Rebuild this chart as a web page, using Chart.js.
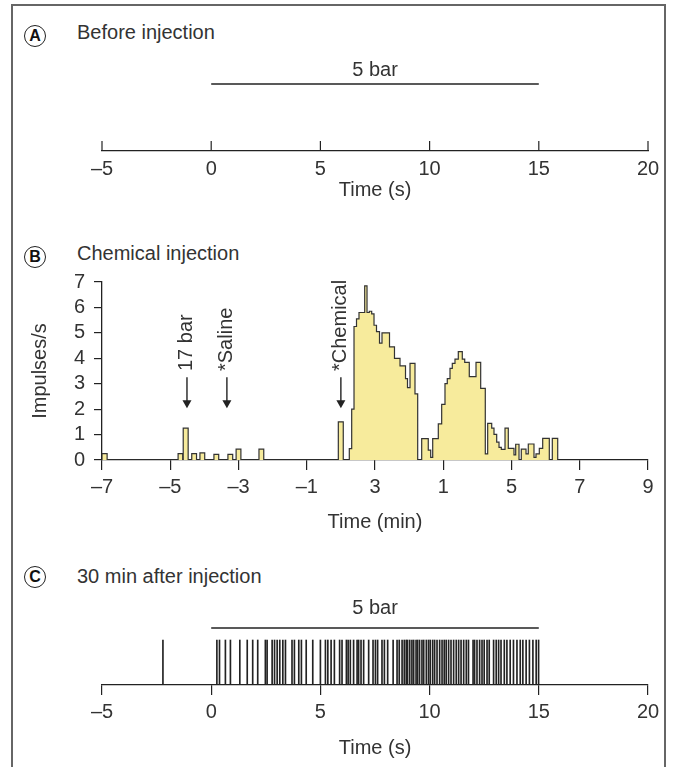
<!DOCTYPE html>
<html><head><meta charset="utf-8">
<script src="https://cdn.jsdelivr.net/npm/chart.js@4/dist/chart.umd.min.js"></script>
<style>
html,body{margin:0;padding:0;background:#fff;}
body{width:673px;height:767px;position:relative;overflow:hidden;font-family:"Liberation Sans",Arial,sans-serif;color:#333;}
.frame{position:absolute;left:11px;top:4px;width:655px;height:800px;border:2px solid #666;border-bottom:none;box-sizing:border-box;}
.letter{position:absolute;width:22px;height:22px;border:1.7px solid #222;border-radius:50%;box-sizing:border-box;font-weight:bold;font-size:16px;line-height:19px;text-align:center;color:#111;}
.ptitle{position:absolute;font-size:20px;line-height:24px;color:#333;white-space:nowrap;}
canvas{position:absolute;left:0;}
</style></head>
<body>
<div class="frame"></div>
<div class="letter" style="left:24px;top:25px">A</div>
<div class="ptitle" style="left:77px;top:20px">Before injection</div>
<div class="letter" style="left:24px;top:246px">B</div>
<div class="ptitle" style="left:77px;top:241px">Chemical injection</div>
<div class="letter" style="left:24px;top:566px">C</div>
<div class="ptitle" style="left:77px;top:564px">30 min after injection</div>
<canvas id="cA" width="673" height="210" style="top:0px"></canvas>
<canvas id="cB" width="673" height="300" style="top:240px"></canvas>
<canvas id="cC" width="673" height="207" style="top:560px"></canvas>
<script>
// ---------- DATA ----------
// Stimulus (5 bar) period, seconds
const stimOn = 0;
const stimOff = 15;
const stimLabel = '5 bar';

// Panel A / C tick labels (s)
const ticksSec = ['–5', '0', '5', '10', '15', '20'];
// Panel B tick labels (min), as printed
const ticksMin = ['–7', '–5', '–3', '–1', '3', '1', '5', '7', '9'];
const ticksRate = ['0', '1', '2', '3', '4', '5', '6', '7'];

// Panel B histogram: each run starts at histStart[i] (min) with rate histRate[i] (impulses/s)
const histStart = [
  -7.00, -6.85,
  -4.77, -4.635, -4.62, -4.475,
  -4.37, -4.23,
  -4.13, -3.99,
  -3.72, -3.58,
  -3.31, -3.17,
  -3.07, -2.93,
  -2.40, -2.26,
  -0.075, 0.07,
  0.247, 0.317, 0.385, 0.458, 0.531, 0.698, 0.766, 0.833, 0.903, 0.971, 1.044, 1.132, 1.205, 1.425, 1.571, 1.733, 1.894, 1.952, 2.026, 2.172, 2.251,
  2.368, 2.561, 2.632, 2.691, 2.855, 2.954, 3.051, 3.118, 3.198, 3.265, 3.344, 3.441, 3.558, 3.629, 3.763, 3.960, 4.097, 4.232, 4.302, 4.420, 4.487, 4.566, 4.634, 4.701, 4.810, 4.906, 5.073, 5.123, 5.220, 5.287, 5.425, 5.492, 5.659, 5.718, 5.815, 5.914, 6.108, 6.196, 6.354
];
const histRate = [
  0.25, 0,
  0.25, 0, 1.25, 0,
  0.25, 0,
  0.28, 0,
  0.22, 0,
  0.22, 0,
  0.43, 0,
  0.43, 0,
  1.5, 0,
  0.45, 2.0, 5.25, 5.55, 5.8, 6.85, 5.8, 5.85, 5.75, 5.3, 5.05, 4.6, 5.0, 4.45, 4.0, 3.7, 3.2, 2.85, 3.8, 2.6, 0,
  0.84, 0.39, 0.1, 0.84, 1.42, 2.19, 3.0, 3.2, 3.6, 3.8, 3.97, 4.26, 3.97, 3.84, 3.28, 3.84, 2.82, 0.24, 1.44, 1.25, 1.01, 0.7, 0.5, 0.42, 1.25, 0.46, 0.2, 0.62, 0, 0.43, 0.24, 0.63, 0.1, 0.24, 0.46, 0.85, 0, 0.85, 0
];

// Panel B event markers
const eventTimes = [-4.51, -3.34, 0.0];
const eventLabels = ['17 bar', '*Saline', '*Chemical'];

// Panel C spike times (s)
const spikeTimes = [
  -2.21, 0.26, 0.38, 0.65, 0.88, 1.31, 1.65, 1.90, 2.13, 2.48, 2.56, 2.79, 2.90, 3.02, 3.14, 3.28, 3.40, 3.70, 3.81, 4.01, 4.13, 4.35, 4.65, 5.00,
  5.23, 5.34, 5.49, 5.64, 5.88, 5.99, 6.19, 6.27, 6.37, 6.52, 6.68, 6.75, 6.86, 6.98, 7.21, 7.41, 7.52, 7.62,
  7.82, 7.93, 8.08, 8.33, 8.51, 8.61, 8.74, 8.84, 8.93, 8.99, 9.09, 9.19, 9.27, 9.38, 9.45, 9.54, 9.65, 9.73, 9.85, 9.95,
  10.03, 10.14, 10.23, 10.34, 10.46, 10.57, 10.67, 10.76, 10.87, 10.98, 11.10, 11.22, 11.33, 11.44, 11.56, 11.68, 11.78,
  11.99, 12.06, 12.17, 12.29, 12.40, 12.50, 12.63, 12.73, 12.93, 13.05, 13.16, 13.27, 13.42, 13.54, 13.69, 13.84, 14.00,
  14.15, 14.27, 14.42, 14.57, 14.73, 14.88, 14.99
];

// ---------- STYLE ----------
const FONT = '"Liberation Sans", Arial, sans-serif';
const INK = '#222';
const TXT = '#333';
const FILL = 'rgb(247,235,156)';
const FS = 20;
Chart.defaults.font.family = FONT;
Chart.defaults.font.size = FS;
Chart.defaults.color = TXT;

// ---------- PLUGINS ----------
const upTicks = {
  id: 'upTicks',
  afterDraw(chart, args, opts) {
    if (!opts || !opts.len) return;
    const s = chart.scales.x, ctx = chart.ctx, b = chart.chartArea.bottom;
    ctx.save(); ctx.strokeStyle = INK; ctx.lineWidth = 1.2;
    s.ticks.forEach(t => {
      const x = s.getPixelForValue(t.value);
      ctx.beginPath(); ctx.moveTo(x, b); ctx.lineTo(x, b - opts.len); ctx.stroke();
    });
    ctx.restore();
  }
};
const stimText = {
  id: 'stimText',
  afterDatasetsDraw(chart, args, opts) {
    if (!opts || !opts.text) return;
    const meta = chart.getDatasetMeta(opts.dataset);
    const p0 = meta.data[0], p1 = meta.data[meta.data.length - 1];
    const ctx = chart.ctx;
    ctx.save(); ctx.fillStyle = TXT; ctx.font = FS + 'px ' + FONT;
    ctx.textAlign = 'center'; ctx.textBaseline = 'middle';
    ctx.fillText(opts.text, (p0.x + p1.x) / 2, p0.y - opts.gap);
    ctx.restore();
  }
};
const eventMarks = {
  id: 'eventMarks',
  afterDatasetsDraw(chart, args, opts) {
    if (!opts || !opts.times) return;
    const xs = chart.scales.x, ys = chart.scales.y, ctx = chart.ctx;
    ctx.save();
    opts.times.forEach((t, i) => {
      const x = xs.getPixelForValue(t);
      const yTip = ys.getPixelForValue(opts.tip);
      const yTop = ys.getPixelForValue(opts.tail);
      const yTxt = ys.getPixelForValue(opts.textAt);
      ctx.strokeStyle = INK; ctx.fillStyle = INK; ctx.lineWidth = 1.4;
      ctx.beginPath(); ctx.moveTo(x, yTop); ctx.lineTo(x, yTip - 5); ctx.stroke();
      ctx.beginPath(); ctx.moveTo(x - 4.5, yTip - 8); ctx.lineTo(x + 4.5, yTip - 8); ctx.lineTo(x, yTip); ctx.closePath(); ctx.fill();
      ctx.save();
      ctx.translate(x, yTxt); ctx.rotate(-Math.PI / 2);
      ctx.fillStyle = TXT; ctx.font = FS + 'px ' + FONT; ctx.textAlign = 'left'; ctx.textBaseline = 'middle';
      ctx.fillText(opts.labels[i], 0, 0);
      ctx.restore();
    });
    ctx.restore();
  }
};

const baseOpts = { responsive: false, animation: false, devicePixelRatio: 1 };

// ---------- PANEL A ----------
new Chart(document.getElementById('cA'), {
  type: 'line',
  data: { datasets: [{
    data: [{ x: stimOn, y: 1 }, { x: stimOff, y: 1 }],
    borderColor: INK, borderWidth: 1.3, pointRadius: 0, clip: false
  }] },
  options: Object.assign({}, baseOpts, {
    layout: { padding: { left: 102, right: 25, top: 84, bottom: 4 } },
    plugins: { legend: { display: false }, tooltip: { enabled: false },
      upTicks: { len: 10 }, stimText: { text: stimLabel, gap: 14, dataset: 0 } },
    scales: {
      x: { type: 'linear', min: -5, max: 20,
        grid: { display: false, drawTicks: false },
        border: { display: true, color: INK, width: 1.3 },
        ticks: { stepSize: 5, padding: 6, color: TXT, maxRotation: 0, autoSkip: false, callback: (v, i) => ticksSec[i] },
        title: { display: true, text: 'Time (s)', color: TXT, font: { size: FS } },
        afterFit: s => { s.height = 55; } },
      y: { display: false, min: 0, max: 1 }
    }
  }),
  plugins: [upTicks, stimText]
});

// ---------- PANEL B ----------
const histPts = [{ x: histStart[0], y: 0 }].concat(histStart.map((t, i) => ({ x: t, y: histRate[i] })));
new Chart(document.getElementById('cB'), {
  type: 'line',
  data: { datasets: [{
    data: histPts, stepped: true, fill: 'origin',
    backgroundColor: FILL, borderColor: '#333', borderWidth: 1.2, pointRadius: 0
  }] },
  options: Object.assign({}, baseOpts, {
    layout: { padding: { left: 24, right: 25, top: 42, bottom: 2 } },
    plugins: { legend: { display: false }, tooltip: { enabled: false },
      eventMarks: { times: eventTimes, labels: eventLabels, tip: 2.04, tail: 3.25, textAt: 3.5 } },
    scales: {
      x: { type: 'linear', min: -7, max: 9,
        grid: { drawOnChartArea: false, drawTicks: true, tickLength: 10, color: INK, lineWidth: 1.2 },
        border: { display: true, color: INK, width: 1.3 },
        ticks: { stepSize: 2, padding: 5, color: TXT, maxRotation: 0, autoSkip: false, callback: (v, i) => ticksMin[i] },
        title: { display: true, text: 'Time (min)', color: TXT, font: { size: FS } },
        afterFit: s => { s.height = 78; } },
      y: { min: 0, max: 7,
        grid: { drawOnChartArea: false, drawTicks: true, tickLength: 8, color: INK, lineWidth: 1.2 },
        border: { display: true, color: INK, width: 1.3 },
        ticks: { stepSize: 1, padding: 9, color: TXT, autoSkip: false, callback: (v, i) => ticksRate[i] },
        title: { display: true, text: 'Impulses/s', color: TXT, font: { size: FS } },
        afterFit: s => { s.width = 78; } }
    }
  }),
  plugins: [eventMarks]
});

// ---------- PANEL C ----------
new Chart(document.getElementById('cC'), {
  type: 'bar',
  data: { datasets: [
    { type: 'bar', data: spikeTimes.map(t => ({ x: t, y: 1 })), backgroundColor: INK, barThickness: 1, yAxisID: 'y' },
    { type: 'line', data: [{ x: stimOn, y: 1 }, { x: stimOff, y: 1 }], borderColor: INK, borderWidth: 1.3, pointRadius: 0, clip: false, yAxisID: 'ys' }
  ] },
  options: Object.assign({}, baseOpts, {
    layout: { padding: { left: 102, right: 25, top: 68, bottom: 3 } },
    plugins: { legend: { display: false }, tooltip: { enabled: false },
      stimText: { text: stimLabel, gap: 20, dataset: 1 } },
    scales: {
      x: { type: 'linear', min: -5, max: 20, offset: false,
        grid: { drawOnChartArea: false, drawTicks: true, tickLength: 10, color: INK, lineWidth: 1.2, offset: false },
        border: { display: true, color: INK, width: 1.3 },
        ticks: { stepSize: 5, padding: 5, color: TXT, maxRotation: 0, autoSkip: false, callback: (v, i) => ticksSec[i] },
        title: { display: true, text: 'Time (s)', color: TXT, font: { size: FS } },
        afterFit: s => { s.height = 79; } },
      y: { display: false, min: 0, max: 1.267 },
      ys: { display: false, min: 0, max: 1 }
    }
  }),
  plugins: [stimText]
});
</script>
</body></html>
